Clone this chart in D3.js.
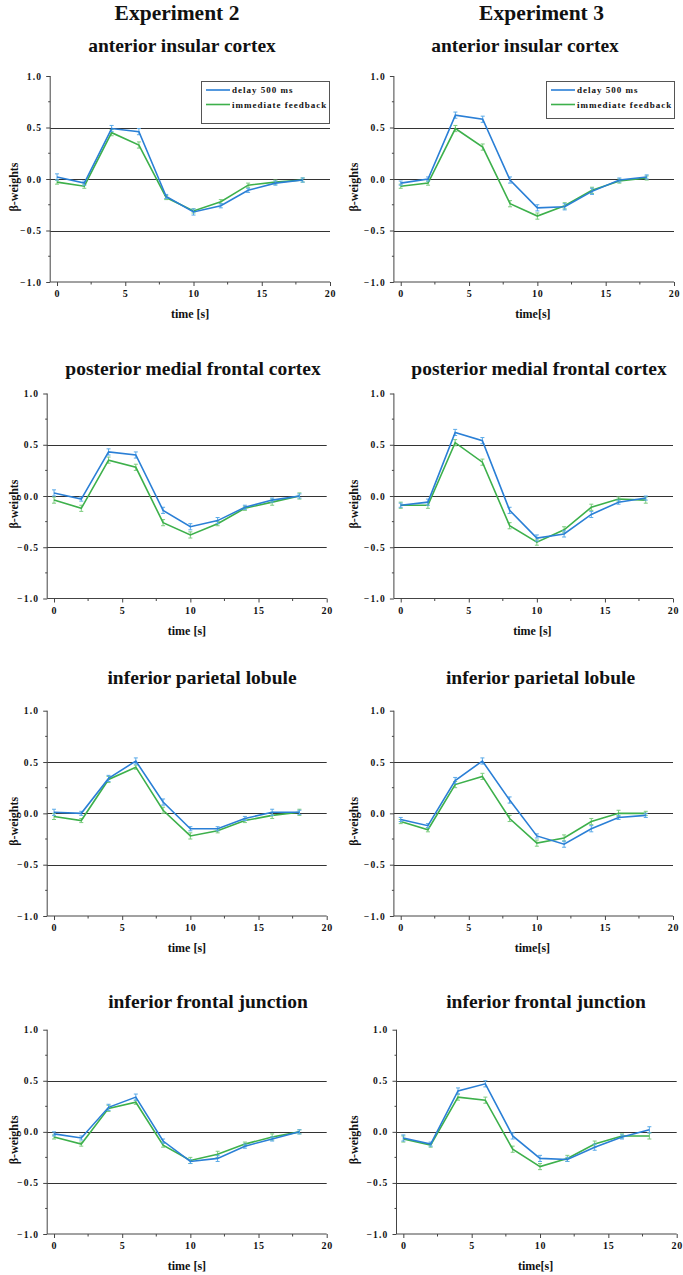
<!DOCTYPE html>
<html>
<head>
<meta charset="utf-8">
<script src="https://cdn.jsdelivr.net/npm/d3@7/dist/d3.min.js"></script>
<style>
  html, body { margin: 0; padding: 0; background: #fff; }
  svg { display: block; }
  text { font-family: "Liberation Serif", "Times New Roman", serif; font-weight: bold; fill: #111; }
</style>
</head>
<body>
<svg id="chart" width="683" height="1275"></svg>
<script>
// ---------- data ----------
const times = [0, 2, 4, 6, 8, 10, 12, 14, 16, 18];
const xTicks = [0, 5, 10, 15, 20];
const xMinorTicks = [2.5, 7.5, 12.5, 17.5];
const yTicks = [-1.0, -0.5, 0.0, 0.5, 1.0];
const yMinorTicks = [-0.75, -0.25, 0.25, 0.75];
const refLines = [-0.5, 0.0, 0.5];
const experiments = ["Experiment 2", "Experiment 3"];
const regions = ["anterior insular cortex", "posterior medial frontal cortex", "inferior parietal lobule", "inferior frontal junction"];
const seriesNames = ["delay 500 ms", "immediate feedback"];
const xTitles = [["time [s]", "time[s]"], ["time [s]", "time [s]"], ["time [s]", "time[s]"], ["time [s]", "time[s]"]];

const exp2_aic_delay     = [0.02, -0.04, 0.49, 0.46, -0.17, -0.32, -0.26, -0.11, -0.04, -0.01];
const exp2_aic_immediate = [-0.03, -0.07, 0.45, 0.33, -0.18, -0.31, -0.22, -0.06, -0.03, -0.01];
const exp3_aic_delay     = [-0.04, 0.00, 0.62, 0.58, -0.01, -0.28, -0.27, -0.12, -0.01, 0.02];
const exp3_aic_immediate = [-0.07, -0.04, 0.49, 0.31, -0.24, -0.36, -0.26, -0.11, -0.02, 0.01];
const exp2_pmfc_delay     = [0.03, -0.03, 0.43, 0.40, -0.14, -0.30, -0.24, -0.11, -0.04, 0.00];
const exp2_pmfc_immediate = [-0.04, -0.12, 0.35, 0.28, -0.26, -0.38, -0.27, -0.12, -0.06, 0.00];
const exp3_pmfc_delay     = [-0.09, -0.06, 0.62, 0.54, -0.14, -0.41, -0.37, -0.18, -0.06, -0.02];
const exp3_pmfc_immediate = [-0.09, -0.09, 0.52, 0.33, -0.29, -0.45, -0.33, -0.11, -0.03, -0.04];
const exp2_ipl_delay     = [0.01, 0.00, 0.34, 0.51, 0.11, -0.15, -0.15, -0.05, 0.01, 0.01];
const exp2_ipl_immediate = [-0.03, -0.07, 0.33, 0.45, 0.03, -0.22, -0.17, -0.07, -0.02, 0.01];
const exp3_ipl_delay     = [-0.06, -0.12, 0.32, 0.51, 0.13, -0.22, -0.30, -0.15, -0.04, -0.02];
const exp3_ipl_immediate = [-0.08, -0.16, 0.28, 0.36, -0.05, -0.29, -0.24, -0.08, 0.00, 0.00];
const exp2_ifj_delay     = [-0.02, -0.06, 0.24, 0.34, -0.09, -0.29, -0.26, -0.14, -0.07, 0.00];
const exp2_ifj_immediate = [-0.05, -0.12, 0.23, 0.29, -0.13, -0.28, -0.22, -0.12, -0.05, 0.00];
const exp3_ifj_delay     = [-0.06, -0.12, 0.40, 0.47, -0.04, -0.26, -0.27, -0.15, -0.05, 0.02];
const exp3_ifj_immediate = [-0.07, -0.13, 0.34, 0.31, -0.17, -0.34, -0.26, -0.12, -0.04, -0.04];

// standard errors (error bar half-lengths)
const exp2_aic_delay_se     = [0.03, 0.02, 0.03, 0.03, 0.02, 0.03, 0.02, 0.02, 0.02, 0.02];
const exp2_aic_immediate_se = [0.02, 0.02, 0.03, 0.03, 0.02, 0.02, 0.02, 0.02, 0.02, 0.02];
const exp3_aic_delay_se     = [0.02, 0.02, 0.03, 0.03, 0.03, 0.03, 0.03, 0.03, 0.02, 0.02];
const exp3_aic_immediate_se = [0.02, 0.02, 0.03, 0.03, 0.03, 0.03, 0.03, 0.03, 0.02, 0.02];
const exp2_pmfc_delay_se     = [0.03, 0.02, 0.03, 0.03, 0.03, 0.03, 0.03, 0.02, 0.02, 0.02];
const exp2_pmfc_immediate_se = [0.03, 0.03, 0.03, 0.03, 0.03, 0.03, 0.02, 0.02, 0.03, 0.03];
const exp3_pmfc_delay_se     = [0.02, 0.03, 0.03, 0.03, 0.03, 0.03, 0.03, 0.03, 0.02, 0.02];
const exp3_pmfc_immediate_se = [0.03, 0.03, 0.03, 0.03, 0.03, 0.03, 0.03, 0.03, 0.02, 0.03];
const exp2_ipl_delay_se     = [0.03, 0.02, 0.03, 0.03, 0.03, 0.02, 0.02, 0.02, 0.03, 0.02];
const exp2_ipl_immediate_se = [0.03, 0.02, 0.03, 0.02, 0.03, 0.03, 0.02, 0.02, 0.03, 0.03];
const exp3_ipl_delay_se     = [0.02, 0.02, 0.03, 0.03, 0.03, 0.02, 0.03, 0.03, 0.02, 0.02];
const exp3_ipl_immediate_se = [0.02, 0.02, 0.03, 0.03, 0.03, 0.03, 0.03, 0.03, 0.03, 0.02];
const exp2_ifj_delay_se     = [0.02, 0.02, 0.03, 0.03, 0.02, 0.02, 0.03, 0.02, 0.02, 0.02];
const exp2_ifj_immediate_se = [0.02, 0.02, 0.03, 0.02, 0.02, 0.03, 0.03, 0.02, 0.03, 0.02];
const exp3_ifj_delay_se     = [0.03, 0.02, 0.03, 0.03, 0.03, 0.03, 0.02, 0.03, 0.02, 0.03];
const exp3_ifj_immediate_se = [0.03, 0.02, 0.03, 0.03, 0.03, 0.03, 0.03, 0.03, 0.02, 0.03];

const colors = ["#2a7fd6", "#3db04b"];
const errColors = ["#5aaae8", "#7ccc7e"];

// panel data: [row][col] -> [delay, immediate, delay_se, immediate_se]
const panelData = [
  [[exp2_aic_delay, exp2_aic_immediate, exp2_aic_delay_se, exp2_aic_immediate_se],
   [exp3_aic_delay, exp3_aic_immediate, exp3_aic_delay_se, exp3_aic_immediate_se]],
  [[exp2_pmfc_delay, exp2_pmfc_immediate, exp2_pmfc_delay_se, exp2_pmfc_immediate_se],
   [exp3_pmfc_delay, exp3_pmfc_immediate, exp3_pmfc_delay_se, exp3_pmfc_immediate_se]],
  [[exp2_ipl_delay, exp2_ipl_immediate, exp2_ipl_delay_se, exp2_ipl_immediate_se],
   [exp3_ipl_delay, exp3_ipl_immediate, exp3_ipl_delay_se, exp3_ipl_immediate_se]],
  [[exp2_ifj_delay, exp2_ifj_immediate, exp2_ifj_delay_se, exp2_ifj_immediate_se],
   [exp3_ifj_delay, exp3_ifj_immediate, exp3_ifj_delay_se, exp3_ifj_immediate_se]]
];

// ---------- layout ----------
const rowTop = [76, 393.5, 710.7, 1029.7];
const rowBottom = [282, 598.5, 916, 1234];
const subBase = [51.5, 375, 684, 1007.5];
const colLeft = [[50.2, 393.9], [47.2, 393.9], [47.2, 393.9], [47.2, 396.5]];
const colRight = [[330, 674], [326.7, 673], [326.7, 673], [326.7, 676.7]];
const subCenter = [[182, 525], [193, 539], [202, 540.5], [208, 546]];
const expCenter = [177, 541.5];

const svg = d3.select("#chart");

experiments.forEach((e, c) => {
  svg.append("text")
    .attr("x", expCenter[c]).attr("y", 19.5)
    .attr("text-anchor", "middle")
    .style("font-size", "21.5px")
    .text(e);
});

const line = (x, y) => d3.line().x((d, i) => x(times[i])).y(d => y(d));

for (let r = 0; r < 4; r++) {
  for (let c = 0; c < 2; c++) {
    const x = d3.scaleLinear().domain([-0.5, 20]).range([colLeft[r][c], colRight[r][c]]);
    const y = d3.scaleLinear().domain([-1, 1]).range([rowBottom[r], rowTop[r]]);
    const g = svg.append("g");
    const [x0, x1] = x.range();
    const [yb, yt] = y.range();

    // subtitle
    g.append("text")
      .attr("x", subCenter[r][c]).attr("y", subBase[r])
      .attr("text-anchor", "middle")
      .style("font-size", "19.5px")
      .text(regions[r]);

    // reference lines
    g.selectAll(".ref").data(refLines).enter().append("line")
      .attr("x1", x0).attr("x2", x1)
      .attr("y1", d => Math.round(y(d)) + 0.5).attr("y2", d => Math.round(y(d)) + 0.5)
      .attr("stroke", "#333").attr("stroke-width", 1);

    // y axis
    const yAxis = d3.axisLeft(y).tickValues(yTicks).tickFormat(d3.format(".1f")).tickSize(4).tickPadding(4);
    const ya = g.append("g").attr("transform", `translate(${x0},0)`).call(yAxis);
    ya.select(".domain").attr("stroke", "#444").attr("d", `M0,${yb}V${yt}`);
    ya.selectAll(".tick line").attr("stroke", "#444");
    ya.selectAll(".tick text")
      .style("font-size", "9.5px").style("letter-spacing", "1.2px")
      .style("font-family", "'Liberation Serif', serif").style("font-weight", "bold").attr("fill", "#111");
    g.append("g").attr("transform", `translate(${x0},0)`)
      .selectAll("line").data(yMinorTicks).enter().append("line")
      .attr("x1", 0).attr("x2", -2)
      .attr("y1", d => y(d)).attr("y2", d => y(d))
      .attr("stroke", "#444");

    // x axis
    const xAxis = d3.axisBottom(x).tickValues(xTicks).tickFormat(d3.format("d")).tickSize(4).tickPadding(4);
    const xa = g.append("g").attr("transform", `translate(0,${yb})`).call(xAxis);
    xa.select(".domain").attr("stroke", "#444").attr("d", `M${x0},0H${x1}`);
    xa.selectAll(".tick line").attr("stroke", "#444");
    xa.selectAll(".tick text")
      .style("font-size", "10px").style("letter-spacing", "0.8px")
      .style("font-family", "'Liberation Serif', serif").style("font-weight", "bold").attr("fill", "#111");
    g.append("g").attr("transform", `translate(0,${yb})`)
      .selectAll("line").data(xMinorTicks).enter().append("line")
      .attr("x1", d => x(d)).attr("x2", d => x(d))
      .attr("y1", 0).attr("y2", 2.5)
      .attr("stroke", "#444");

    // axis titles
    g.append("text")
      .attr("x", (x0 + x1) / 2 + (c === 0 ? 0 : -1)).attr("y", yb + 36)
      .attr("text-anchor", "middle")
      .style("font-size", "12px")
      .text(xTitles[r][c]);
    g.append("text")
      .attr("transform", `translate(${c === 0 ? 18 : 358},${(yt + yb) / 2 + 8}) rotate(-90)`)
      .attr("text-anchor", "middle")
      .style("font-size", "12px")
      .text("β-weights");

    // series
    const d = panelData[r][c];
    for (let s = 1; s >= 0; s--) {
      const vals = d[s], se = d[s + 2];
      const eg = g.append("g");
      vals.forEach((v, i) => {
        const xi = x(times[i]);
        eg.append("line")
          .attr("x1", xi).attr("x2", xi)
          .attr("y1", y(v - se[i])).attr("y2", y(v + se[i]))
          .attr("stroke", errColors[s]).attr("stroke-width", 1);
        [v - se[i], v + se[i]].forEach(ev => {
          eg.append("line")
            .attr("x1", xi - 2).attr("x2", xi + 2)
            .attr("y1", y(ev)).attr("y2", y(ev))
            .attr("stroke", errColors[s]).attr("stroke-width", 1);
        });
      });
      g.append("path")
        .datum(vals)
        .attr("d", line(x, y))
        .attr("fill", "none")
        .attr("stroke", colors[s])
        .attr("stroke-width", 1.6);
    }

    // legend (top row only)
    if (r === 0) {
      const lw = 128, lh = c === 0 ? 42 : 37;
      const lx = x1 - lw - (c === 0 ? 1 : 0), ly = yt + 5;
      const lg = g.append("g").attr("transform", `translate(${lx},${ly})`);
      lg.append("rect")
        .attr("x", 0.5).attr("y", 0.5).attr("width", lw).attr("height", lh)
        .attr("fill", "#fff").attr("stroke", "#555").attr("stroke-width", 1);
      seriesNames.forEach((name, s) => {
        const yy = 9 + s * 14.5;
        lg.append("line")
          .attr("x1", 5).attr("x2", 29).attr("y1", yy).attr("y2", yy)
          .attr("stroke", colors[s]).attr("stroke-width", 1.6);
        lg.append("text")
          .attr("x", 31).attr("y", yy + 3)
          .style("font-size", "9px").style("letter-spacing", "1px")
          .text(name);
      });
    }
  }
}
</script>
</body>
</html>
